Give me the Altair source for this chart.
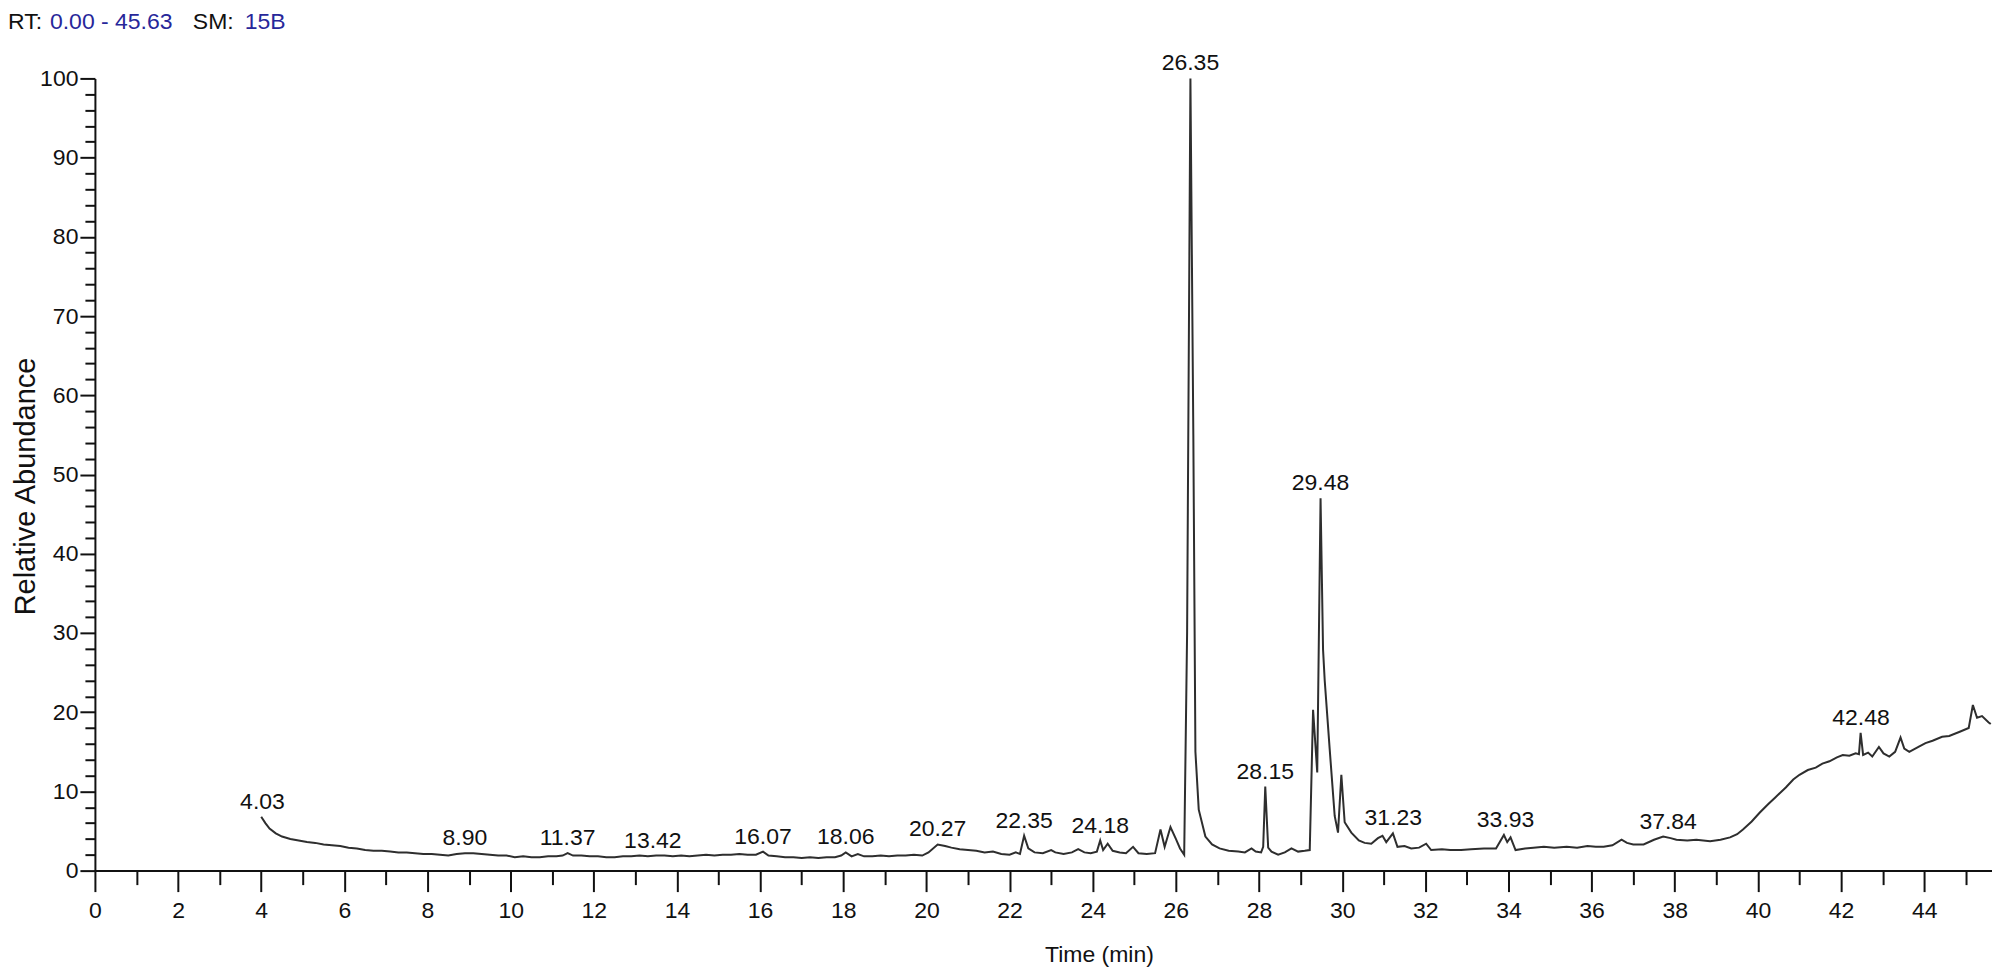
import altair as alt
import pandas as pd

# ---- chromatogram trace (time in min, relative abundance) ----
trace = [
    (4.00, 6.8), (4.10, 6.0), (4.20, 5.3), (4.35, 4.7), (4.50, 4.3), (4.70, 4.0),
    (4.90, 3.8), (5.10, 3.6), (5.30, 3.5), (5.50, 3.3), (5.70, 3.2), (5.90, 3.1),
    (6.10, 2.9), (6.30, 2.8), (6.50, 2.6), (6.70, 2.5), (6.90, 2.5), (7.10, 2.4),
    (7.30, 2.3), (7.50, 2.3), (7.70, 2.2), (7.90, 2.1), (8.10, 2.1), (8.30, 2.0),
    (8.50, 1.9), (8.70, 2.1), (8.90, 2.2), (9.10, 2.2), (9.30, 2.1), (9.50, 2.0),
    (9.70, 1.9), (9.90, 1.9), (10.10, 1.7), (10.30, 1.8), (10.50, 1.7), (10.70, 1.7),
    (10.90, 1.8), (11.10, 1.8), (11.25, 1.9), (11.37, 2.2), (11.50, 1.9), (11.70, 1.9),
    (11.90, 1.8), (12.10, 1.8), (12.30, 1.7), (12.50, 1.7), (12.70, 1.8), (12.90, 1.8),
    (13.10, 1.9), (13.30, 1.8), (13.50, 1.9), (13.70, 1.9), (13.90, 1.8), (14.10, 1.9),
    (14.30, 1.8), (14.50, 1.9), (14.70, 2.0), (14.90, 1.9), (15.10, 2.0), (15.30, 2.0),
    (15.50, 2.1), (15.70, 2.0), (15.90, 2.0), (16.07, 2.4), (16.20, 1.9), (16.40, 1.8),
    (16.60, 1.7), (16.80, 1.7), (17.00, 1.6), (17.20, 1.7), (17.40, 1.6), (17.60, 1.7),
    (17.80, 1.7), (17.95, 1.9), (18.06, 2.3), (18.20, 1.8), (18.35, 2.1), (18.50, 1.8),
    (18.70, 1.8), (18.90, 1.9), (19.10, 1.8), (19.30, 1.9), (19.50, 1.9), (19.70, 2.0),
    (19.90, 1.9), (20.05, 2.3), (20.27, 3.3), (20.45, 3.1), (20.60, 2.9), (20.80, 2.7),
    (21.00, 2.6), (21.20, 2.5), (21.40, 2.3), (21.60, 2.4), (21.80, 2.1), (22.00, 2.0),
    (22.15, 2.3), (22.25, 2.1), (22.35, 4.4), (22.45, 2.8), (22.60, 2.3), (22.80, 2.2),
    (23.00, 2.6), (23.10, 2.3), (23.30, 2.1), (23.50, 2.3), (23.65, 2.7), (23.80, 2.3),
    (23.95, 2.2), (24.10, 2.4), (24.18, 3.8), (24.25, 2.6), (24.36, 3.4), (24.48, 2.5),
    (24.65, 2.3), (24.80, 2.2), (24.97, 3.0), (25.10, 2.2), (25.30, 2.1), (25.50, 2.2),
    (25.63, 5.2), (25.73, 3.0), (25.87, 5.5), (26.00, 4.0), (26.10, 2.8), (26.20, 2.0),
    (26.27, 30.0), (26.35, 100.0), (26.42, 55.0), (26.47, 15.0), (26.55, 7.7), (26.71, 4.3),
    (26.87, 3.3), (27.05, 2.8), (27.27, 2.5), (27.50, 2.4), (27.66, 2.3), (27.82, 2.8),
    (27.92, 2.4), (28.05, 2.3), (28.10, 3.0), (28.15, 10.6), (28.22, 2.9), (28.30, 2.4),
    (28.46, 2.0), (28.62, 2.3), (28.78, 2.8), (28.94, 2.4), (29.10, 2.5), (29.22, 2.6),
    (29.30, 20.3), (29.40, 12.4), (29.48, 47.0), (29.54, 27.9), (29.58, 24.0), (29.70, 15.3),
    (29.82, 6.9), (29.90, 4.8), (29.98, 12.1), (30.06, 6.1), (30.22, 4.8), (30.40, 3.8),
    (30.54, 3.5), (30.70, 3.4), (30.86, 4.1), (30.97, 4.4), (31.06, 3.6), (31.22, 4.7),
    (31.33, 3.0), (31.50, 3.1), (31.66, 2.8), (31.85, 2.9), (32.02, 3.4), (32.14, 2.6),
    (32.40, 2.7), (32.60, 2.6), (32.86, 2.6), (33.10, 2.7), (33.41, 2.8), (33.70, 2.8),
    (33.89, 4.5), (33.97, 3.6), (34.05, 4.2), (34.17, 2.6), (34.40, 2.8), (34.60, 2.9),
    (34.85, 3.0), (35.10, 2.9), (35.40, 3.0), (35.65, 2.9), (35.90, 3.1), (36.10, 3.0),
    (36.29, 3.0), (36.50, 3.2), (36.72, 3.9), (36.85, 3.5), (37.00, 3.3), (37.25, 3.3),
    (37.50, 3.9), (37.72, 4.3), (37.90, 4.1), (38.04, 3.9), (38.30, 3.8), (38.52, 3.9),
    (38.85, 3.7), (39.10, 3.9), (39.33, 4.2), (39.50, 4.6), (39.64, 5.2), (39.85, 6.2),
    (40.04, 7.3), (40.25, 8.4), (40.43, 9.3), (40.67, 10.5), (40.85, 11.5), (41.00, 12.1),
    (41.20, 12.7), (41.39, 13.0), (41.55, 13.5), (41.72, 13.8), (41.90, 14.3), (42.04, 14.6),
    (42.20, 14.5), (42.35, 14.8), (42.43, 14.7), (42.47, 17.4), (42.53, 14.6), (42.65, 14.9),
    (42.75, 14.4), (42.91, 15.6), (43.02, 14.8), (43.16, 14.4), (43.30, 15.0), (43.43, 16.8),
    (43.52, 15.4), (43.64, 15.0), (43.85, 15.6), (44.03, 16.1), (44.20, 16.4), (44.43, 16.9),
    (44.60, 17.0), (44.84, 17.5), (45.07, 18.0), (45.17, 20.9), (45.27, 19.3), (45.39, 19.5),
    (45.55, 18.7), (45.60, 18.5),
]
times = [p[0] for p in trace]
abundance = [p[1] for p in trace]

# ---- peak annotations ----
label_texts = ["4.03", "8.90", "11.37", "13.42", "16.07", "18.06", "20.27", "22.35",
               "24.18", "26.35", "28.15", "29.48", "31.23", "33.93", "37.84", "42.48"]
label_times = [4.03, 8.90, 11.37, 13.42, 16.07, 18.06, 20.27, 22.35,
               24.18, 26.35, 28.15, 29.48, 31.23, 33.93, 37.84, 42.48]
label_abund = [6.8, 2.2, 2.2, 1.9, 2.4, 2.3, 3.3, 4.4,
               3.8, 100.0, 10.6, 47.0, 4.7, 4.5, 4.3, 17.4]

# ---- axis ticks ----
x_ticks = [i * 0.5 for i in range(92)]      # 0 .. 45.5
y_ticks = [i * 2 for i in range(51)]        # 0 .. 100
x_domain = [0, 45.63]
y_domain = [0, 100]

# ---- header pieces ----
header_pieces = ["RT:", "0.00 - 45.63", "SM:", "15B"]
header_colors = ["#111111", "#27279a", "#111111", "#27279a"]

FONT = "Liberation Sans, Arial, sans-serif"
FS = 23

df = pd.DataFrame({"time": times, "abund": abundance})
lab = pd.DataFrame({"time": label_times, "abund": label_abund, "txt": label_texts})

x_axis = alt.Axis(
    values=x_ticks,
    format="d",
    labelExpr="datum.value % 2 === 0 ? datum.label : ''",
    labelOverlap=False,
    labelFlush=False,
    tickSize={"condition": {"test": "datum.value % 2 === 0", "value": 21}, "value": 14},
    labelPadding=8,
    title="Time (min)",
    titleFont=FONT,
    titleFontSize=FS,
    titleFontWeight="normal",
    titleX=1005,
    titleY=91,
    titleAlign="center",
    titleBaseline="alphabetic",
)
y_axis = alt.Axis(
    values=y_ticks,
    format="d",
    labelExpr="datum.value % 10 === 0 ? datum.label : ''",
    labelOverlap=False,
    labelFlush=False,
    tickSize={"condition": {"test": "datum.value % 10 === 0", "value": 15}, "value": 10},
    labelPadding=2,
    title="Relative Abundance",
    titleFont=FONT,
    titleFontSize=29,
    titleFontWeight="normal",
    titleAngle=-90,
    titleX=-69,
    titleY=408,
    titleAlign="center",
    titleBaseline="middle",
)

x_scale = alt.Scale(domain=x_domain, nice=False, zero=False)
y_scale = alt.Scale(domain=y_domain, nice=False)

line = alt.Chart(df).mark_line(color="#2e2e2e", strokeWidth=2, interpolate="linear").encode(
    x=alt.X("time:Q", scale=x_scale, axis=x_axis),
    y=alt.Y("abund:Q", scale=y_scale, axis=y_axis),
)

labels = alt.Chart(lab).mark_text(
    font=FONT, fontSize=FS, color="#111111", align="center", baseline="alphabetic", dy=-8
).encode(
    x=alt.X("time:Q", scale=x_scale, axis=x_axis),
    y=alt.Y("abund:Q", scale=y_scale, axis=y_axis),
    text="txt:N",
)

header_x = [-87, -45, 98, 150]
header_layers = []
for txt, col, hx in zip(header_pieces, header_colors, header_x):
    header_layers.append(
        alt.Chart(alt.Data(values=[{}])).mark_text(
            font=FONT, fontSize=FS, color=col, align="left", baseline="alphabetic"
        ).encode(x=alt.value(hx), y=alt.value(-49), text=alt.value(txt))
    )

chart = alt.layer(line, labels, *header_layers).properties(
    width=1899,
    height=793,
    autosize=alt.AutoSizeParams(type="none"),
    padding={"left": 87, "top": 70, "right": 0, "bottom": 103},
).configure_view(stroke=None).configure_axis(
    grid=False,
    domainColor="#111111",
    domainWidth=2,
    tickColor="#111111",
    tickWidth=2,
    labelColor="#111111",
    labelFont=FONT,
    labelFontSize=FS,
    titleColor="#111111",
)

chart.save("out.html", embed_options={"renderer": "svg", "actions": False})
